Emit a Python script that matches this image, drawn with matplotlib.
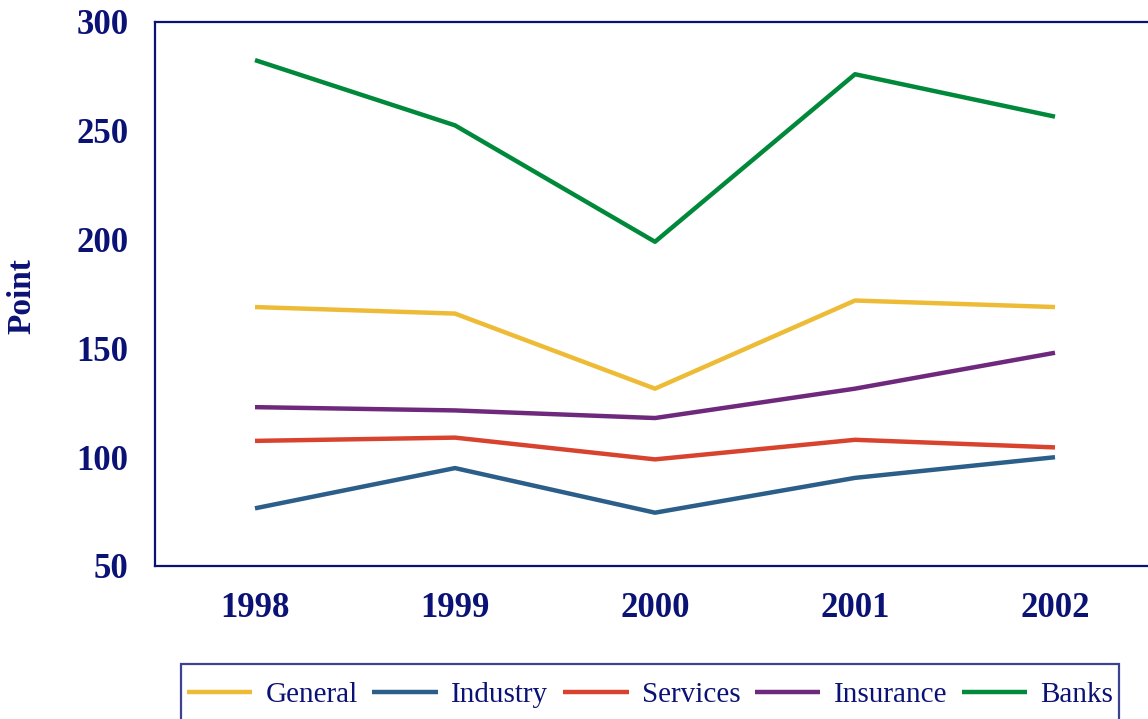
import matplotlib.pyplot as plt
from matplotlib.transforms import ScaledTranslation

# Index points by sector, 1998-2002
years = [1998, 1999, 2000, 2001, 2002]
general = [169, 166, 131.5, 172, 169]
industry = [76.5, 95, 74.5, 90.5, 100]
services = [107.5, 109, 99, 108, 104.5]
insurance = [123, 121.5, 118, 131.5, 148]
banks = [282.5, 252.5, 199, 276, 256.5]

series_names = ["General", "Industry", "Services", "Insurance", "Banks"]
series_values = [general, industry, services, insurance, banks]
colors = ["#EDBB35", "#2B5E88", "#D7432E", "#6E287C", "#00893A"]

navy = "#0B1275"
plt.rcParams["font.family"] = ["Liberation Serif", "DejaVu Serif"]

fig = plt.figure(figsize=(11.48, 7.19), dpi=100)
ax = fig.add_axes([155 / 1148, 1 - 566 / 719, 1000 / 1148, 544 / 719])

for name, vals, c in zip(series_names, series_values, colors):
    ax.plot(years, vals, color=c, linewidth=3.2, label=name, solid_capstyle="butt")

ax.set_xlim(1997.5, 2002.5)
ax.set_ylim(50, 300)
ax.set_xticks(years)
ax.set_yticks([50, 100, 150, 200, 250, 300])

for side in ["left", "bottom", "top", "right"]:
    ax.spines[side].set_color(navy)
    ax.spines[side].set_linewidth(1.6)

ax.tick_params(axis="both", length=0, labelsize=25, labelcolor=navy)
ax.tick_params(axis="x", pad=19)
ax.tick_params(axis="y", pad=19)
for lbl in ax.get_xticklabels() + ax.get_yticklabels():
    lbl.set_fontweight("bold")

ax.set_ylabel("Point", fontsize=24, fontweight="bold", color=navy)
ax.yaxis.set_label_coords(-0.118, 0.496)

leg = fig.legend(
    loc="upper left",
    bbox_to_anchor=(181 / 1148, 1 - 664 / 719),
    ncol=5,
    frameon=True,
    fancybox=False,
    fontsize=21,
    handlelength=2.25,
    handleheight=2.0,
    handletextpad=0.45,
    columnspacing=0.5,
    borderpad=0.2,
    borderaxespad=0,
)
leg.get_frame().set_edgecolor(navy)
leg.get_frame().set_linewidth(1.6)
for t in leg.get_texts():
    t.set_color(navy)
# drop the legend swatches onto the text's middle
for ln in leg.get_lines():
    ln.set_transform(ln.get_transform() + ScaledTranslation(0, -0.06, fig.dpi_scale_trans))

fig.savefig("out.png", dpi=100)
